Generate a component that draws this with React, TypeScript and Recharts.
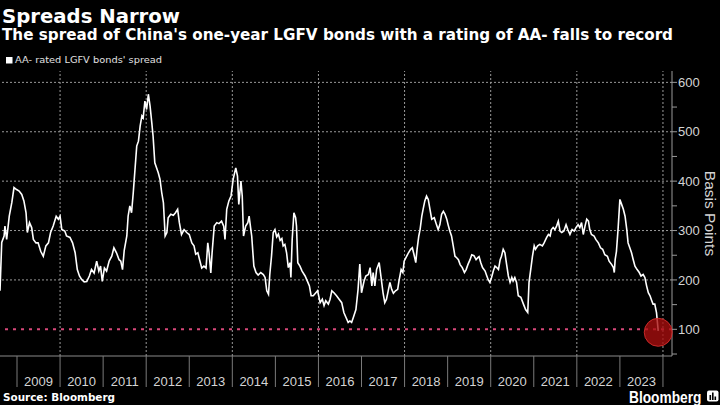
import React from 'react';
import { LineChart, Line, XAxis, YAxis, ReferenceLine, ReferenceDot } from 'recharts';

const dates: number[] = [
  2008.605, 2008.645, 2008.7, 2008.72, 2008.76, 2008.82, 2008.88, 2008.93, 2008.99, 2009.05, 2009.11, 2009.16, 2009.21, 2009.24, 2009.29, 2009.34, 2009.38, 2009.44, 2009.49,
  2009.55, 2009.61, 2009.67, 2009.73, 2009.78, 2009.84, 2009.91, 2009.96, 2010.0, 2010.04, 2010.11, 2010.15, 2010.23, 2010.29, 2010.35, 2010.4, 2010.45, 2010.5, 2010.56, 2010.62,
  2010.68, 2010.73, 2010.79, 2010.85, 2010.9, 2010.94, 2010.98, 2011.03, 2011.08, 2011.14, 2011.2, 2011.25, 2011.31, 2011.37, 2011.41, 2011.45, 2011.49, 2011.55, 2011.58, 2011.62,
  2011.66, 2011.7, 2011.74, 2011.78, 2011.82, 2011.86, 2011.9, 2011.93, 2011.97, 2012.01, 2012.05, 2012.09, 2012.13, 2012.16, 2012.2, 2012.24, 2012.28, 2012.32, 2012.36, 2012.4,
  2012.44, 2012.48, 2012.51, 2012.57, 2012.63, 2012.68, 2012.73, 2012.77, 2012.82, 2012.88, 2012.94, 2013.0, 2013.06, 2013.11, 2013.15, 2013.2, 2013.24, 2013.29, 2013.34, 2013.39,
  2013.43, 2013.46, 2013.5, 2013.53, 2013.58, 2013.64, 2013.69, 2013.75, 2013.8, 2013.83, 2013.87, 2013.92, 2013.97, 2014.02, 2014.08, 2014.12, 2014.15, 2014.2, 2014.23, 2014.26,
  2014.31, 2014.36, 2014.39, 2014.43, 2014.45, 2014.5, 2014.55, 2014.6, 2014.66, 2014.72, 2014.76, 2014.8, 2014.84, 2014.87, 2014.91, 2014.95, 2014.99, 2015.03, 2015.07, 2015.11,
  2015.15, 2015.18, 2015.22, 2015.26, 2015.3, 2015.34, 2015.36, 2015.39, 2015.43, 2015.47, 2015.49, 2015.52, 2015.57, 2015.62, 2015.69, 2015.74, 2015.79, 2015.83, 2015.88, 2015.94,
  2015.98, 2016.04, 2016.09, 2016.13, 2016.17, 2016.23, 2016.27, 2016.31, 2016.36, 2016.42, 2016.48, 2016.54, 2016.59, 2016.64, 2016.69, 2016.73, 2016.77, 2016.81, 2016.87, 2016.92,
  2016.96, 2017.0, 2017.06, 2017.1, 2017.16, 2017.2, 2017.24, 2017.27, 2017.31, 2017.35, 2017.41, 2017.45, 2017.5, 2017.54, 2017.58, 2017.62, 2017.66, 2017.7, 2017.74, 2017.79,
  2017.84, 2017.87, 2017.92, 2017.96, 2017.99, 2018.05, 2018.09, 2018.14, 2018.18, 2018.22, 2018.26, 2018.29, 2018.33, 2018.36, 2018.4, 2018.43, 2018.47, 2018.51, 2018.55, 2018.59,
  2018.63, 2018.69, 2018.74, 2018.78, 2018.82, 2018.86, 2018.9, 2018.94, 2018.98, 2019.01, 2019.05, 2019.09, 2019.13, 2019.17, 2019.21, 2019.25, 2019.29, 2019.34, 2019.39, 2019.43,
  2019.47, 2019.52, 2019.56, 2019.61, 2019.66, 2019.7, 2019.73, 2019.77, 2019.81, 2019.87, 2019.91, 2019.94, 2019.98, 2020.02, 2020.06, 2020.1, 2020.14, 2020.18, 2020.22, 2020.25,
  2020.29, 2020.33, 2020.37, 2020.41, 2020.45, 2020.49, 2020.52, 2020.56, 2020.6, 2020.64, 2020.7, 2020.76, 2020.81, 2020.86, 2020.89, 2020.94, 2020.97, 2021.01, 2021.04, 2021.09,
  2021.14, 2021.2, 2021.24, 2021.3, 2021.34, 2021.38, 2021.41, 2021.45, 2021.49, 2021.53, 2021.57, 2021.61, 2021.65, 2021.7, 2021.75, 2021.79, 2021.84, 2021.89, 2021.94, 2021.98,
  2022.03, 2022.07, 2022.11, 2022.15, 2022.19, 2022.23, 2022.27, 2022.3, 2022.34, 2022.4, 2022.44, 2022.5, 2022.55, 2022.6, 2022.65, 2022.71, 2022.75, 2022.81, 2022.85, 2022.87,
  2022.89, 2022.92, 2022.96, 2023.0, 2023.04, 2023.08, 2023.12, 2023.16, 2023.19, 2023.23, 2023.27, 2023.31, 2023.35, 2023.4, 2023.45, 2023.49, 2023.54, 2023.58, 2023.62, 2023.66,
  2023.7, 2023.74, 2023.77, 2023.81, 2023.85, 2023.89,
];

const spreadBp: number[] = [
  178, 276, 289, 309, 282, 329, 357, 387, 383, 380, 373, 360, 336, 296, 316, 306, 282, 275, 275,
  258, 248, 269, 275, 296, 309, 329, 323, 329, 302, 299, 289, 286, 275, 255, 221, 208, 201, 196, 197,
  208, 221, 214, 238, 218, 228, 197, 224, 218, 238, 248, 265, 255, 241, 238, 221, 260, 289, 329, 350,
  336, 377, 424, 471, 481, 512, 532, 528, 562, 545, 576, 552, 518, 491, 437, 427, 417, 404, 377, 356,
  289, 296, 326, 333, 331, 336, 343, 316, 292, 302, 296, 292, 275, 269, 252, 255, 241, 224, 228, 224,
  275, 255, 214, 255, 309, 316, 314, 319, 309, 282, 343, 360, 370, 404, 427, 410, 353, 400, 370, 289,
  309, 316, 329, 302, 289, 228, 215, 210, 215, 211, 205, 178, 171, 211, 248, 296, 302, 287, 293, 280,
  284, 269, 272, 255, 225, 235, 205, 282, 336, 326, 309, 235, 228, 218, 208, 198, 188, 168, 168, 174,
  178, 154, 161, 148, 158, 151, 161, 178, 174, 168, 161, 154, 134, 124, 114, 117, 114, 124, 140, 181,
  232, 174, 198, 208, 211, 225, 188, 215, 188, 221, 235, 208, 174, 154, 161, 178, 195, 181, 173, 178,
  181, 198, 221, 215, 238, 248, 255, 262, 265, 251, 235, 262, 289, 302, 329, 343, 360, 370, 363, 343,
  323, 326, 312, 302, 312, 333, 339, 333, 323, 312, 299, 289, 269, 248, 245, 241, 231, 225, 215, 221,
  231, 241, 251, 249, 241, 245, 247, 235, 225, 218, 208, 201, 195, 205, 218, 228, 225, 221, 241, 248,
  262, 255, 231, 208, 195, 205, 198, 205, 195, 168, 165, 151, 140, 134, 195, 228, 248, 269, 262, 269,
  272, 269, 275, 286, 292, 289, 302, 306, 302, 309, 319, 299, 296, 299, 312, 302, 292, 302, 299, 306,
  312, 306, 316, 292, 309, 323, 319, 302, 292, 289, 282, 275, 265, 262, 251, 248, 238, 231, 225, 215,
  241, 258, 306, 363, 353, 343, 329, 302, 275, 265, 255, 241, 228, 221, 215, 208, 211, 205, 188, 174,
  168, 158, 151, 151, 134, 97,
];

const yearTicks: number[] = [2009, 2010, 2011, 2012, 2013, 2014, 2015, 2016, 2017, 2018, 2019, 2020, 2021, 2022, 2023, 2024];
const gridYears: number[] = [2010, 2012, 2014, 2016, 2018, 2020, 2022, 2024];
const yTicks: number[] = [50, 100, 150, 200, 250, 300, 350, 400, 450, 500, 550, 600];
const gridValues: number[] = [200, 300, 400, 500, 600];
const recordLevel = 100;

const title = 'Spreads Narrow';
const subtitle = "The spread of China's one-year LGFV bonds with a rating of AA- falls to record";
const legendLabel = "AA- rated LGFV bonds' spread";
const axisTitle = 'Basis Points';
const source = 'Source: Bloomberg';

const X_DOMAIN: [number, number] = [2008.605, 2024.21];
const Y_DOMAIN: [number, number] = [46, 623];
const PLOT_W = 672;

const data = dates.map((t, i) => ({ t, v: spreadBp[i] }));
const last = data[data.length - 1];

const LABEL_FONT = '"Liberation Sans", Arial, sans-serif';
const GRID_STROKE = '#9a9a9a';

function YearTick(props: any) {
  const { x, y, payload } = props;
  const half = PLOT_W / (X_DOMAIN[1] - X_DOMAIN[0]) / 2;
  const yr = payload.value;
  return (
    <g>
      <line x1={x} x2={x} y1={y} y2={y + 31} stroke="#7a7a7a" strokeWidth={1} />
      {yr < 2024 && (
        <text x={x + half} y={y + 29.5} textAnchor="middle" fill="#d4d4d4" fontSize={13} fontFamily={LABEL_FONT}>
          {yr}
        </text>
      )}
    </g>
  );
}

function ValueTick(props: any) {
  const { x, y, payload } = props;
  const major = payload.value % 100 === 0;
  return (
    <g>
      <line x1={x} x2={x + 5} y1={y} y2={y} stroke="#9a9a9a" strokeWidth={1} />
      {major && (
        <text x={x + 6} y={y + 4.7} textAnchor="start" fill="#d4d4d4" fontSize={13} fontFamily={LABEL_FONT}>
          {payload.value}
        </text>
      )}
    </g>
  );
}

export default function App() {
  return (
    <div style={{ position: 'absolute', left: 0, top: 0, width: 720, height: 405, background: '#000', overflow: 'hidden' }}>
      <LineChart width={720} height={405} data={data} margin={{ top: 71, right: 0, bottom: 16, left: 0 }}>
        <XAxis
          dataKey="t"
          type="number"
          domain={X_DOMAIN}
          allowDataOverflow
          ticks={yearTicks}
          interval={0}
          height={33}
          tickSize={0}
          tickMargin={0}
          tickLine={false}
          axisLine={{ stroke: '#8a8a8a' }}
          tick={<YearTick />}
        />
        <YAxis
          orientation="right"
          type="number"
          domain={Y_DOMAIN}
          allowDataOverflow
          ticks={yTicks}
          interval={0}
          width={48}
          tickSize={0}
          tickMargin={0}
          tickLine={false}
          axisLine={{ stroke: '#9a9a9a' }}
          tick={<ValueTick />}
        />
        {gridValues.map((v) => (
          <ReferenceLine key={'h' + v} y={v} stroke={GRID_STROKE} strokeWidth={1} strokeDasharray="2 2" />
        ))}
        {gridYears.map((yr) => (
          <ReferenceLine key={'v' + yr} x={yr} stroke={GRID_STROKE} strokeWidth={1} strokeDasharray="2 2" />
        ))}
        <ReferenceLine y={recordLevel} stroke="#d8487a" strokeWidth={2} strokeDasharray="3 5" />
        <Line
          type="linear"
          dataKey="v"
          stroke="#ffffff"
          strokeWidth={1.6}
          dot={false}
          isAnimationActive={false}
        />
        <ReferenceDot
          x={last.t}
          y={94}
          r={14}
          fill="rgba(170,14,14,0.78)"
          stroke="rgba(210,45,45,0.9)"
          strokeWidth={1}
        />
      </LineChart>
      <svg width={720} height={405} style={{ position: 'absolute', left: 0, top: 0, pointerEvents: 'none' }}>
        <text x={2} y={22.5} fill="#fff" fontSize={20} fontWeight="bold" fontFamily='"DejaVu Sans", sans-serif' textLength={178} lengthAdjust="spacingAndGlyphs">
          {title}
        </text>
        <text x={2} y={40} fill="#fff" fontSize={15.5} fontWeight="bold" fontFamily='"DejaVu Sans", sans-serif' textLength={671} lengthAdjust="spacingAndGlyphs">
          {subtitle}
        </text>
        <rect x={6} y={57} width={6.5} height={6.5} fill="#fff" />
        <text x={15} y={63.4} fill="#e0e0e0" fontSize={9.5} fontFamily='"DejaVu Sans", sans-serif' textLength={147} lengthAdjust="spacingAndGlyphs">
          {legendLabel}
        </text>
        <text
          x={0}
          y={0}
          transform="translate(705,213.5) rotate(90)"
          textAnchor="middle"
          fill="#d4d4d4"
          fontSize={15.5}
          fontFamily={LABEL_FONT}
        >
          {axisTitle}
        </text>
        <text x={3} y={401} fill="#fff" fontSize={11} fontWeight="bold" fontFamily='"DejaVu Sans", sans-serif' textLength={112} lengthAdjust="spacingAndGlyphs">
          {source}
        </text>
        <text x={629} y={402.5} fill="#fff" fontSize={17} fontWeight="bold" fontFamily='"Liberation Sans", Arial, sans-serif' textLength={72.5} lengthAdjust="spacingAndGlyphs">
          Bloomberg
        </text>
        <rect x={707} y={390.5} width={11.5} height={11} rx={2} fill="#fff" />
        <rect x={709.5} y={395} width={1.6} height={5} fill="#000" />
        <rect x={712} y={392.5} width={1.6} height={7.5} fill="#000" />
        <rect x={714.5} y={396.5} width={1.6} height={3.5} fill="#000" />
      </svg>
    </div>
  );
}
